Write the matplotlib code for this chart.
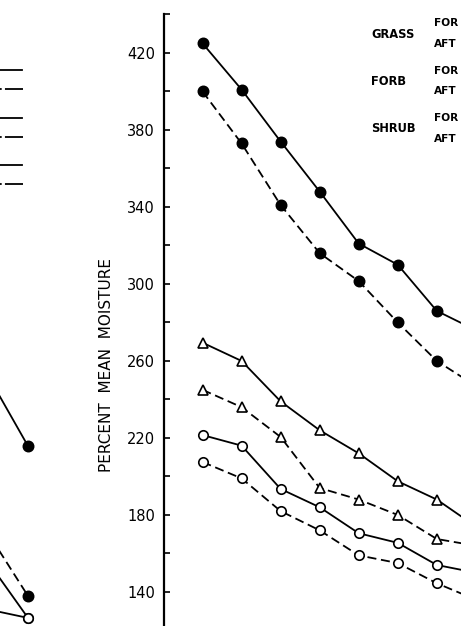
import matplotlib.pyplot as plt

plt.rcParams['font.family'] = ['DejaVu Sans']

# sampling times (index), right panel and the cut-off left panel
times = [1, 2, 3, 4, 5, 6, 7, 8]
times_left = [7, 8]

# percent mean moisture, right panel
grass_fore = [425, 401, 374, 348, 321, 310, 286, 276]
grass_aft = [400, 373, 341, 316, 301.5, 280, 260, 247]
forb_fore = [269.5, 260, 239, 224, 212, 197.5, 188, 174]
forb_aft = [245, 236, 220.5, 194, 188, 180, 167.5, 164]
shrub_fore = [221.5, 216, 193.5, 184, 170.5, 165.5, 154, 150]
shrub_aft = [207.5, 199, 182, 172, 159, 155, 144.5, 136]

# left panel (only the last two samples show)
grass_fore_l = [251.5, 215.8]
grass_aft_l = [169.8, 137.9]
shrub_fore_l = [155, 126.5]
forb_fore_l = [130.8, 126.5]

major_ticks = [140, 180, 220, 260, 300, 340, 380, 420]
minor_ticks = [160, 200, 240, 280, 320, 360, 400, 440]
legend_groups = ['GRASS', 'FORB', 'SHRUB']
# legend words run past the right edge of the crop; only their start shows
legend_times = ['FOR', 'AFT']

W, H = 461, 626
fig = plt.figure(figsize=(W / 100, H / 100), dpi=100)

lw = 1.3
dash = (0, (5, 2.6))
filled = dict(color='black', lw=lw, ms=7.4, mew=1.2, mfc='black', zorder=3)
hollow = dict(color='black', lw=lw, ms=6.8, mew=1.2, mfc='white', zorder=3)

# right (main) panel
ax = fig.add_axes([163.5 / W, 0, (W - 163.5) / W, 611.5 / H])
ax.plot(times, grass_fore, marker='o', **filled)
ax.plot(times, grass_aft, marker='o', ls=dash, **filled)
ax.plot(times, forb_fore, marker='^', **hollow)
ax.plot(times, forb_aft, marker='^', ls=dash, **hollow)
ax.plot(times, shrub_fore, marker='o', **hollow)
ax.plot(times, shrub_aft, marker='o', ls=dash, **hollow)

ax.set_xlim(0, 7.62)
ax.set_ylim(122.3, 440)
ax.set_yticks(major_ticks)
ax.set_yticks(minor_ticks, minor=True)
ax.tick_params(axis='y', which='both', direction='in', length=4, width=1.2,
               pad=6, labelsize=10.5)
ax.set_xticks([])
for s in ['top', 'right', 'bottom']:
    ax.spines[s].set_visible(False)
ax.spines['left'].set_linewidth(1.6)
ax.set_ylabel('PERCENT  MEAN  MOISTURE', fontsize=11)
ax.yaxis.set_label_coords(-0.165, 0.427)

# legend text (handles are beyond the right edge)
for i, g in enumerate(legend_groups):
    y0 = 23 + 47.5 * i
    fig.text(371 / W, 1 - (y0 + 11) / H, g, fontsize=8.3, fontweight='bold',
             va='center', ha='left')
    fig.text(434 / W, 1 - y0 / H, legend_times[0], fontsize=7.6,
             fontweight='bold', va='center', ha='left')
    fig.text(434 / W, 1 - (y0 + 21) / H, legend_times[1], fontsize=7.6,
             fontweight='bold', va='center', ha='left')

# left panel, mostly cut off
axl = fig.add_axes([-284.3 / W, 0, 336.5 / W, 611.5 / H])
axl.plot(times_left, grass_fore_l, marker='o', **filled)
axl.plot(times_left, grass_aft_l, marker='o', ls=dash, **filled)
axl.plot(times_left, shrub_fore_l, marker='o', **hollow)
axl.plot(times_left, forb_fore_l, marker='o', **hollow)
axl.set_xlim(0, 8.62)
axl.set_ylim(122.3, 440)
axl.axis('off')

# left panel legend samples (only their right ends show)
for i in range(3):
    y0 = 70 + 47.5 * i
    axl.plot([-40 / W, 22 / W], [1 - y0 / H, 1 - y0 / H], color='black',
             lw=lw, transform=fig.transFigure, clip_on=False)
    axl.plot([23 / W, -40 / W], [1 - (y0 + 19) / H, 1 - (y0 + 19) / H],
             color='black', lw=lw, ls=(0, (10, 1.8)),
             transform=fig.transFigure, clip_on=False)

fig.savefig('out.png', dpi=100)
